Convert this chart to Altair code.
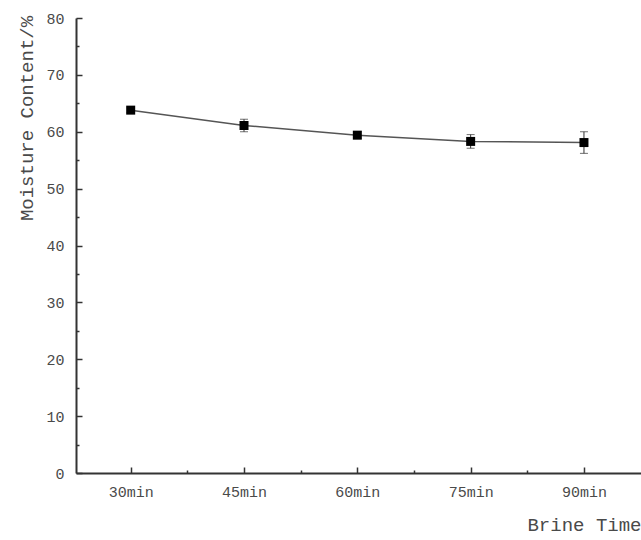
import altair as alt
import pandas as pd

# Data
minutes = [30, 45, 60, 75, 90]
moisture = [63.8, 61.1, 59.4, 58.3, 58.1]
err = [0.4, 1.1, 0.6, 1.2, 1.9]

x_major = [30, 45, 60, 75, 90]
x_minor = [37.5, 52.5, 67.5, 82.5]
y_major = [0, 10, 20, 30, 40, 50, 60, 70, 80]
y_minor = [5, 15, 25, 35, 45, 55, 65, 75]

df = pd.DataFrame({"t": minutes, "m": moisture, "e": err})
df["lo"] = df["m"] - df["e"]
df["hi"] = df["m"] + df["e"]

FONT = "Liberation Mono"
TXT = "#4a4a4a"
AX = "#333333"

xscale = alt.Scale(domain=[22.76, 97.55], nice=False, zero=False)
yscale = alt.Scale(domain=[0, 80], nice=False)

x_main_axis = alt.Axis(
    values=x_major, title="Brine Time", grid=False,
    labelExpr="datum.value + 'min'",
    tickSize=alt.ExprRef("-6"), tickColor=AX, tickWidth=1.5,
    domainColor=AX, domainWidth=2,
    labelPadding=17, labelFont=FONT, labelFontSize=15, labelColor=TXT,
    titleFont=FONT, titleFontSize=19, titleFontWeight="normal", titleColor=TXT,
    titleX=565, titleY=57, titleAlign="right", titleBaseline="alphabetic",
)
y_main_axis = alt.Axis(
    values=y_major, title="Moisture Content/%", grid=False,
    tickSize=alt.ExprRef("-6"), tickColor=AX, tickWidth=1.5,
    domainColor=AX, domainWidth=2,
    labelPadding=18, labelFont=FONT, labelFontSize=15, labelColor=TXT,
    titleFont=FONT, titleFontSize=19, titleFontWeight="normal", titleColor=TXT,
    titleX=-44, titleY=100, titleAlign="center", titleBaseline="alphabetic",
    titleAngle=270,
)
x_minor_axis = alt.Axis(
    values=x_minor, title=None, labels=False, domain=False, grid=False,
    orient="bottom", tickSize=alt.ExprRef("-3"), tickColor=AX, tickWidth=1.5,
)
y_minor_axis = alt.Axis(
    values=y_minor, title=None, labels=False, domain=False, grid=False,
    orient="left", tickSize=alt.ExprRef("-3"), tickColor=AX, tickWidth=1.5,
)

base = alt.Chart(df)

line = base.mark_line(color="#555555", strokeWidth=1.5).encode(
    x=alt.X("t:Q", scale=xscale, axis=x_main_axis),
    y=alt.Y("m:Q", scale=yscale, axis=y_main_axis),
)

bars = base.mark_rule(color="#333333", strokeWidth=1).encode(
    x=alt.X("t:Q", scale=xscale, axis=x_minor_axis),
    y=alt.Y("lo:Q", scale=yscale, axis=y_minor_axis),
    y2="hi:Q",
)
caps_lo = base.mark_tick(color="#333333", thickness=1, size=8, orient="horizontal").encode(
    x=alt.X("t:Q", scale=xscale, axis=None),
    y=alt.Y("lo:Q", scale=yscale, axis=None),
)
caps_hi = base.mark_tick(color="#333333", thickness=1, size=8, orient="horizontal").encode(
    x=alt.X("t:Q", scale=xscale, axis=None),
    y=alt.Y("hi:Q", scale=yscale, axis=None),
)
points = base.mark_point(shape="square", filled=True, color="#000000", size=81, opacity=1).encode(
    x=alt.X("t:Q", scale=xscale, axis=None),
    y=alt.Y("m:Q", scale=yscale, axis=None),
)

chart = alt.layer(line, bars, caps_lo, caps_hi, points).resolve_axis(
    x="independent", y="independent"
).properties(
    width=565, height=455,
    background="white",
    autosize=alt.AutoSizeParams(type="none"),
    padding={"left": 76, "top": 18, "right": 0, "bottom": 67},
).configure_view(strokeWidth=0)

chart.save("out.html", embed_options={"renderer": "svg", "actions": False})
